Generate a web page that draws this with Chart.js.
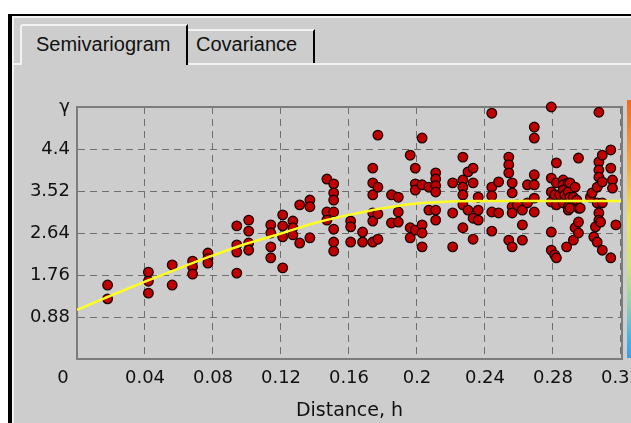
<!DOCTYPE html>
<html>
<head>
<meta charset="utf-8">
<script src="https://cdn.jsdelivr.net/npm/chart.js@4.4.0/dist/chart.umd.min.js"></script>
<style>
  html, body { margin: 0; padding: 0; background: #fff; }
  body { width: 631px; height: 423px; position: relative; overflow: hidden; }
  .frame {
    position: absolute; left: 8px; top: 14px; width: 640px; height: 420px;
    background: #cdcdcd; border-left: 4px solid #000; border-top: 2px solid #000;
    box-shadow: inset 2px 2px 0 #f2f2f2;
  }
  .tabline { position: absolute; left: 13px; top: 63px; width: 620px; height: 2px; background: #f2f2f2; }
  .tab {
    position: absolute; box-sizing: border-box; background: #cdcdcd;
    font-family: "Liberation Sans", Arial, sans-serif; font-size: 20px; color: #111;
    line-height: 23px; white-space: nowrap;
  }
  .tab.sel {
    left: 20px; top: 24px; width: 168px; height: 41px;
    border-left: 2px solid #f2f2f2; border-top: 2px solid #f2f2f2; border-right: 2px solid #000;
    border-top-left-radius: 3px; padding: 7px 0 0 14px;
  }
  .tab.other {
    left: 188px; top: 29px; width: 127px; height: 34px;
    border-top: 2px solid #f2f2f2; border-right: 2px solid #000;
    padding: 2px 0 0 8px;
  }
  .ramp {
    position: absolute; left: 627px; top: 100px; width: 4px; height: 258px;
    background: linear-gradient(#f06a1c 0%, #f39a3c 20%, #f1df52 45%, #cfe27a 65%, #8fd0b0 80%, #4ab4e6 92%, #3a9fe0 100%);
  }
  #chart { position: absolute; left: 0; top: 0; }
</style>
</head>
<body>
<div class="frame"></div>
<div class="tabline"></div>
<div class="tab other">Covariance</div>
<div class="tab sel">Semivariogram</div>
<div class="ramp"></div>
<canvas id="chart" width="631" height="423"></canvas>
<script>
// lag distances (h) and the semivariance values seen at each lag
const lagDistances = [
  0.018, 0.042, 0.056, 0.068, 0.077, 0.094, 0.101, 0.114, 0.121, 0.127,
  0.131, 0.137, 0.147, 0.151, 0.161, 0.168, 0.174, 0.177, 0.185, 0.189,
  0.196, 0.199, 0.203, 0.207, 0.211, 0.221, 0.227, 0.230, 0.233, 0.236,
  0.244, 0.248, 0.254, 0.256, 0.259, 0.262, 0.265, 0.269, 0.279, 0.281,
  0.282, 0.284, 0.286, 0.287, 0.288, 0.289, 0.290, 0.292, 0.293, 0.294,
  0.295, 0.296, 0.302, 0.303, 0.304, 0.305, 0.306, 0.307, 0.308, 0.309,
  0.314, 0.315, 0.317
];
const semivariances = [
  [1.55, 1.26], [1.82, 1.63, 1.38], [1.97, 1.55], [2.05, 1.93, 1.78], [2.22, 2.10, 2.01],
  [2.79, 2.39, 2.24, 1.80], [2.91, 2.68, 2.43, 2.28], [2.81, 2.64, 2.35, 2.12],
  [3.02, 2.79, 2.56, 1.91], [2.89, 2.75, 2.60],
  [3.23, 2.43], [3.33, 3.19, 2.54], [3.77, 3.08, 2.91], [3.67, 3.48, 3.33, 3.08, 2.72, 2.45, 2.26],
  [2.89, 2.77, 2.45], [2.66, 2.45], [4.00, 3.69, 3.44, 3.06, 2.89, 2.45], [4.69, 3.60, 3.04, 2.51],
  [3.44, 2.85], [3.39, 3.08, 2.87],
  [4.27, 2.75, 2.54], [4.00, 3.67, 3.54, 2.70], [4.63, 3.65, 2.81, 2.64, 2.35], [3.60, 3.12],
  [3.90, 3.77, 3.63, 3.50, 3.12, 2.91], [3.69, 3.06, 2.35], [4.23, 3.75, 3.60, 3.44, 3.23, 2.75],
  [3.92, 3.12], [4.00, 3.69, 2.95, 2.51], [3.39, 3.12, 2.91],
  [5.15, 3.60, 3.42, 3.08, 2.68], [3.71, 3.06], [4.23, 4.07, 3.90, 2.49], [3.69, 3.48, 3.19, 3.06, 2.35],
  [3.23], [3.12, 2.81, 2.49], [3.65, 3.27], [4.86, 4.63, 3.86, 3.65, 3.37, 3.08],
  [5.28, 3.79, 3.50, 3.29, 2.66, 2.28], [3.44, 2.18],
  [4.11, 3.69, 3.23, 2.12], [3.44], [3.75, 3.65, 3.54, 3.27], [3.44], [2.35], [3.69, 3.50, 3.19, 3.12],
  [3.69, 3.39, 3.16], [3.39, 2.49], [3.60, 2.75], [3.33],
  [4.21, 3.16, 2.87, 2.64], [3.16], [3.39], [3.48], [2.56], [2.77], [3.60, 3.27, 2.45],
  [5.17, 4.13, 3.96, 3.81, 3.06, 2.91], [2.87], [3.71, 3.27, 4.27, 2.28],
  [4.38, 4.00, 2.12], [3.75, 3.58], [2.81]
];

// fitted model curve (yellow)
const modelDistances = [0, 0.02, 0.04, 0.06, 0.08, 0.10, 0.12, 0.14, 0.16, 0.18, 0.20, 0.22, 0.24, 0.26, 0.28, 0.30, 0.32];
const modelValues = [1.03, 1.33, 1.62, 1.90, 2.17, 2.42, 2.63, 2.85, 3.02, 3.16, 3.26, 3.30, 3.31, 3.31, 3.31, 3.31, 3.31];

const xTickValues = [0, 0.04, 0.08, 0.12, 0.16, 0.2, 0.24, 0.28, 0.32];
const xTickLabels = ['', '0.04', '0.08', '0.12', '0.16', '0.2', '0.24', '0.28', '0.32'];
const yTickValues = [0, 0.88, 1.76, 2.64, 3.52, 4.4, 5.28];
const yTickLabels = ['', '0.88', '1.76', '2.64', '3.52', '4.4', 'γ'];

const points = [];
lagDistances.forEach((h, i) => {
  semivariances[i].forEach(g => points.push({ x: h, y: g }));
});
const model = modelDistances.map((h, i) => ({ x: h, y: modelValues[i] }));

Chart.defaults.font.family = '"DejaVu Sans", sans-serif';
Chart.defaults.color = '#111';

const gridColor = '#6f6f6f';

// top/right frame of the plot, and the shared "0" at the origin
const plotFrame = {
  id: 'plotFrame',
  beforeDatasetsDraw(chart) {
    const { ctx, chartArea: a } = chart;
    ctx.save();
    ctx.strokeStyle = '#7c7c7c';
    ctx.lineWidth = 2;
    ctx.beginPath();
    ctx.moveTo(a.left, a.top);
    ctx.lineTo(a.right, a.top);
    ctx.lineTo(a.right, a.bottom);
    ctx.stroke();
    ctx.restore();
  },
  afterDraw(chart) {
    const { ctx, chartArea: a } = chart;
    ctx.save();
    ctx.font = '18px "DejaVu Sans", sans-serif';
    ctx.fillStyle = '#111';
    ctx.textAlign = 'center';
    ctx.textBaseline = 'middle';
    ctx.fillText('0', a.left - 14, a.bottom + 19);
    ctx.restore();
  }
};

new Chart(document.getElementById('chart'), {
  type: 'scatter',
  data: {
    datasets: [
      {
        type: 'line',
        data: model,
        borderColor: '#ffff22',
        borderWidth: 2.5,
        pointRadius: 0,
        cubicInterpolationMode: 'monotone',
        order: 0
      },
      {
        data: points,
        backgroundColor: '#c00000',
        borderColor: '#1a0000',
        borderWidth: 1.3,
        pointRadius: 4.8,
        clip: false,
        order: 1
      }
    ]
  },
  options: {
    responsive: false,
    animation: false,
    layout: { padding: { top: 107, right: 9, left: 0, bottom: 0 } },
    plugins: { legend: { display: false }, tooltip: { enabled: false } },
    scales: {
      x: {
        type: 'linear',
        min: 0,
        max: 0.3206,
        afterBuildTicks: s => { s.ticks = xTickValues.map(v => ({ value: v })); },
        afterFit: s => { s.height = 64; s.paddingLeft = 0; s.paddingRight = 0; },
        ticks: {
          autoSkip: false,
          maxRotation: 0,
          padding: 9,
          font: { size: 18 },
          callback: (v, i) => xTickLabels[i]
        },
        grid: { color: gridColor, lineWidth: 1, drawTicks: false },
        border: { color: '#7c7c7c', width: 2, dash: [7, 5] },
        title: {
          display: true,
          text: 'Distance, h',
          font: { size: 19 },
          padding: { top: 0, bottom: 1 }
        }
      },
      y: {
        min: 0,
        max: 5.28,
        afterBuildTicks: s => { s.ticks = yTickValues.map(v => ({ value: v })); },
        afterFit: s => { s.width = 77; },
        ticks: {
          autoSkip: false,
          padding: 7,
          font: { size: 18 },
          callback: (v, i) => yTickLabels[i]
        },
        grid: { color: gridColor, lineWidth: 1, drawTicks: false },
        border: { color: '#7c7c7c', width: 2, dash: [7, 5] }
      }
    }
  },
  plugins: [plotFrame]
});
</script>
</body>
</html>
